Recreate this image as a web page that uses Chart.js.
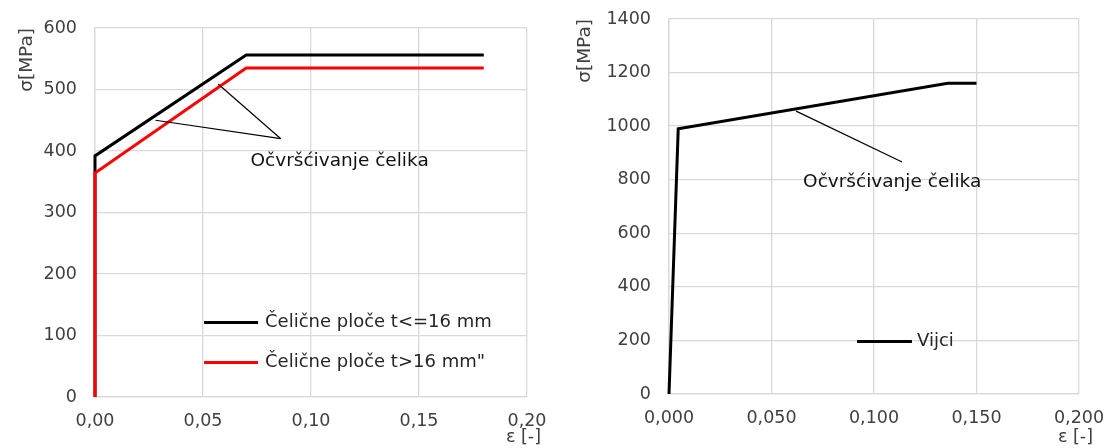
<!DOCTYPE html>
<html>
<head>
<meta charset="utf-8">
<script src="https://cdn.jsdelivr.net/npm/chart.js@4.4.1/dist/chart.umd.min.js"></script>
<style>
  body { margin: 0; background: #fff; }
  .wrap { position: absolute; top: 0; width: 554px; height: 448px; }
</style>
</head>
<body>
<div class="wrap" style="left:0"><canvas id="plates" width="554" height="448"></canvas></div>
<div class="wrap" style="left:554px"><canvas id="bolts" width="554" height="448"></canvas></div>
<script>
// Left chart - steel plates
const plateStrain = [0, 0, 0.07, 0.18];
const plateThinStress = [0, 392, 556, 556];   // t <= 16 mm
const plateThickStress = [0, 364, 535, 535];  // t > 16 mm
const plateLabels = ['Čelične ploče t<=16 mm', 'Čelične ploče t>16 mm"'];
const plateXTicks = [0, 0.05, 0.10, 0.15, 0.20];
const plateYTicks = [0, 100, 200, 300, 400, 500, 600];

// Right chart - bolts
const boltStrain = [0, 0.0045, 0.136, 0.15];
const boltStress = [0, 990, 1160, 1160];
const boltLabels = ['Vijci'];
const boltXTicks = [0, 0.05, 0.10, 0.15, 0.20];
const boltYTicks = [0, 200, 400, 600, 800, 1000, 1200, 1400];

const noteText = 'Očvršćivanje čelika';
const xTitle = 'ε [-]';
const yTitle = 'σ[MPa]';

const FAMILY = '"DejaVu Sans", "Liberation Sans", sans-serif';
const GRID = '#d9d9d9';
const TICK = '#404040';

const toPoints = (xs, ys) => xs.map((x, i) => ({ x: x, y: ys[i] }));
const px = (chart, x, y) => [chart.scales.x.getPixelForValue(x), chart.scales.y.getPixelForValue(y)];

// annotation text, leader lines, x title and the in-plot legend
const notesPlugin = {
    id: 'notes',
    afterDraw(chart, args, opts) {
        const ctx = chart.ctx;
        ctx.save();
        ctx.strokeStyle = '#000';
        ctx.lineWidth = 1.2;
        opts.leaders.forEach(l => {
            const a = px(chart, l[0], l[1]);
            const b = px(chart, l[2], l[3]);
            ctx.beginPath();
            ctx.moveTo(a[0], a[1]);
            ctx.lineTo(b[0], b[1]);
            ctx.stroke();
        });
        ctx.font = '18.5px ' + FAMILY;
        ctx.textBaseline = 'middle';
        ctx.textAlign = 'left';
        ctx.fillStyle = '#111';
        const t = px(chart, opts.textAt[0], opts.textAt[1]);
        ctx.fillText(opts.text, t[0], t[1]);

        ctx.font = '18px ' + FAMILY;
        const lg = opts.legend;
        chart.data.datasets.forEach((ds, i) => {
            const a = px(chart, lg.x0, lg.rows[i]);
            const b = px(chart, lg.x1, lg.rows[i]);
            ctx.strokeStyle = ds.borderColor;
            ctx.lineWidth = 3;
            ctx.beginPath();
            ctx.moveTo(a[0], a[1]);
            ctx.lineTo(b[0], a[1]);
            ctx.stroke();
            ctx.fillStyle = '#262626';
            ctx.fillText(ds.label, px(chart, lg.xText, 0)[0], a[1]);
        });

        // x axis title sits just below the last tick label, a bit past the plot edge
        ctx.font = '17.5px ' + FAMILY;
        ctx.fillStyle = TICK;
        ctx.textAlign = 'right';
        ctx.fillText(xTitle, chart.chartArea.right + 14, 437);
        ctx.restore();
    }
};

const noPad = s => { s.paddingTop = 0; s.paddingBottom = 0; s.paddingLeft = 0; s.paddingRight = 0; };

function makeChart(id, datasets, xTicks, yTicks, decimals, box, notes) {
    return new Chart(document.getElementById(id), {
        type: 'scatter',
        data: { datasets: datasets },
        plugins: [notesPlugin],
        options: {
            responsive: false,
            animation: false,
            layout: { padding: { top: box.top, right: box.right, left: 0, bottom: 0 } },
            plugins: {
                legend: { display: false },
                tooltip: { enabled: false },
                notes: notes
            },
            scales: {
                x: {
                    type: 'linear',
                    min: xTicks[0],
                    max: xTicks[xTicks.length - 1],
                    afterBuildTicks: s => { s.ticks = xTicks.map(v => ({ value: v })); },
                    afterFit: s => { s.height = box.xHeight; noPad(s); },
                    grid: { color: GRID, lineWidth: 1.3, drawTicks: false },
                    border: { color: GRID, width: 1.3 },
                    ticks: {
                        padding: 14, color: TICK, autoSkip: false, maxRotation: 0,
                        font: { family: FAMILY, size: 17.5 },
                        callback: v => v.toFixed(decimals).replace('.', ',')
                    }
                },
                y: {
                    type: 'linear',
                    min: yTicks[0],
                    max: yTicks[yTicks.length - 1],
                    afterBuildTicks: s => { s.ticks = yTicks.map(v => ({ value: v })); },
                    afterFit: s => { s.width = box.yWidth; noPad(s); },
                    grid: { color: GRID, lineWidth: 1.3, drawTicks: false },
                    border: { color: GRID, width: 1.3 },
                    ticks: {
                        padding: 18, color: TICK, autoSkip: false,
                        font: { family: FAMILY, size: 17.5 },
                        callback: v => String(v)
                    },
                    title: {
                        display: true, text: yTitle, align: 'end', color: TICK,
                        font: { family: FAMILY, size: 18.5 }, padding: { top: box.titlePad, bottom: 0 }
                    }
                }
            }
        }
    });
}

const lineStyle = { showLine: true, pointRadius: 0, borderWidth: 3, clip: false, fill: false };

makeChart('plates', [
    Object.assign({ label: plateLabels[0], data: toPoints(plateStrain, plateThinStress), borderColor: '#000000', order: 1 }, lineStyle),
    Object.assign({ label: plateLabels[1], data: toPoints(plateStrain, plateThickStress), borderColor: '#ff0000', order: 0 }, lineStyle)
], plateXTicks, plateYTicks, 2,
    { top: 28, right: 27, yWidth: 95, xHeight: 51, titlePad: 16 },
    {
        text: noteText,
        textAt: [0.072, 384],
        leaders: [[0.028, 450, 0.086, 420], [0.057, 509, 0.086, 420]],
        legend: { x0: 0.0505, x1: 0.0755, xText: 0.0787, rows: [121, 56] }
    });

makeChart('bolts', [
    Object.assign({ label: boltLabels[0], data: toPoints(boltStrain, boltStress), borderColor: '#000000' }, lineStyle)
], boltXTicks, boltYTicks, 3,
    { top: 19, right: 29, yWidth: 115, xHeight: 54, titlePad: 20 },
    {
        text: noteText,
        textAt: [0.0654, 792],
        leaders: [[0.062, 1056, 0.1137, 866]],
        legend: { x0: 0.0917, x1: 0.1185, xText: 0.121, rows: [196] }
    });
</script>
</body>
</html>
